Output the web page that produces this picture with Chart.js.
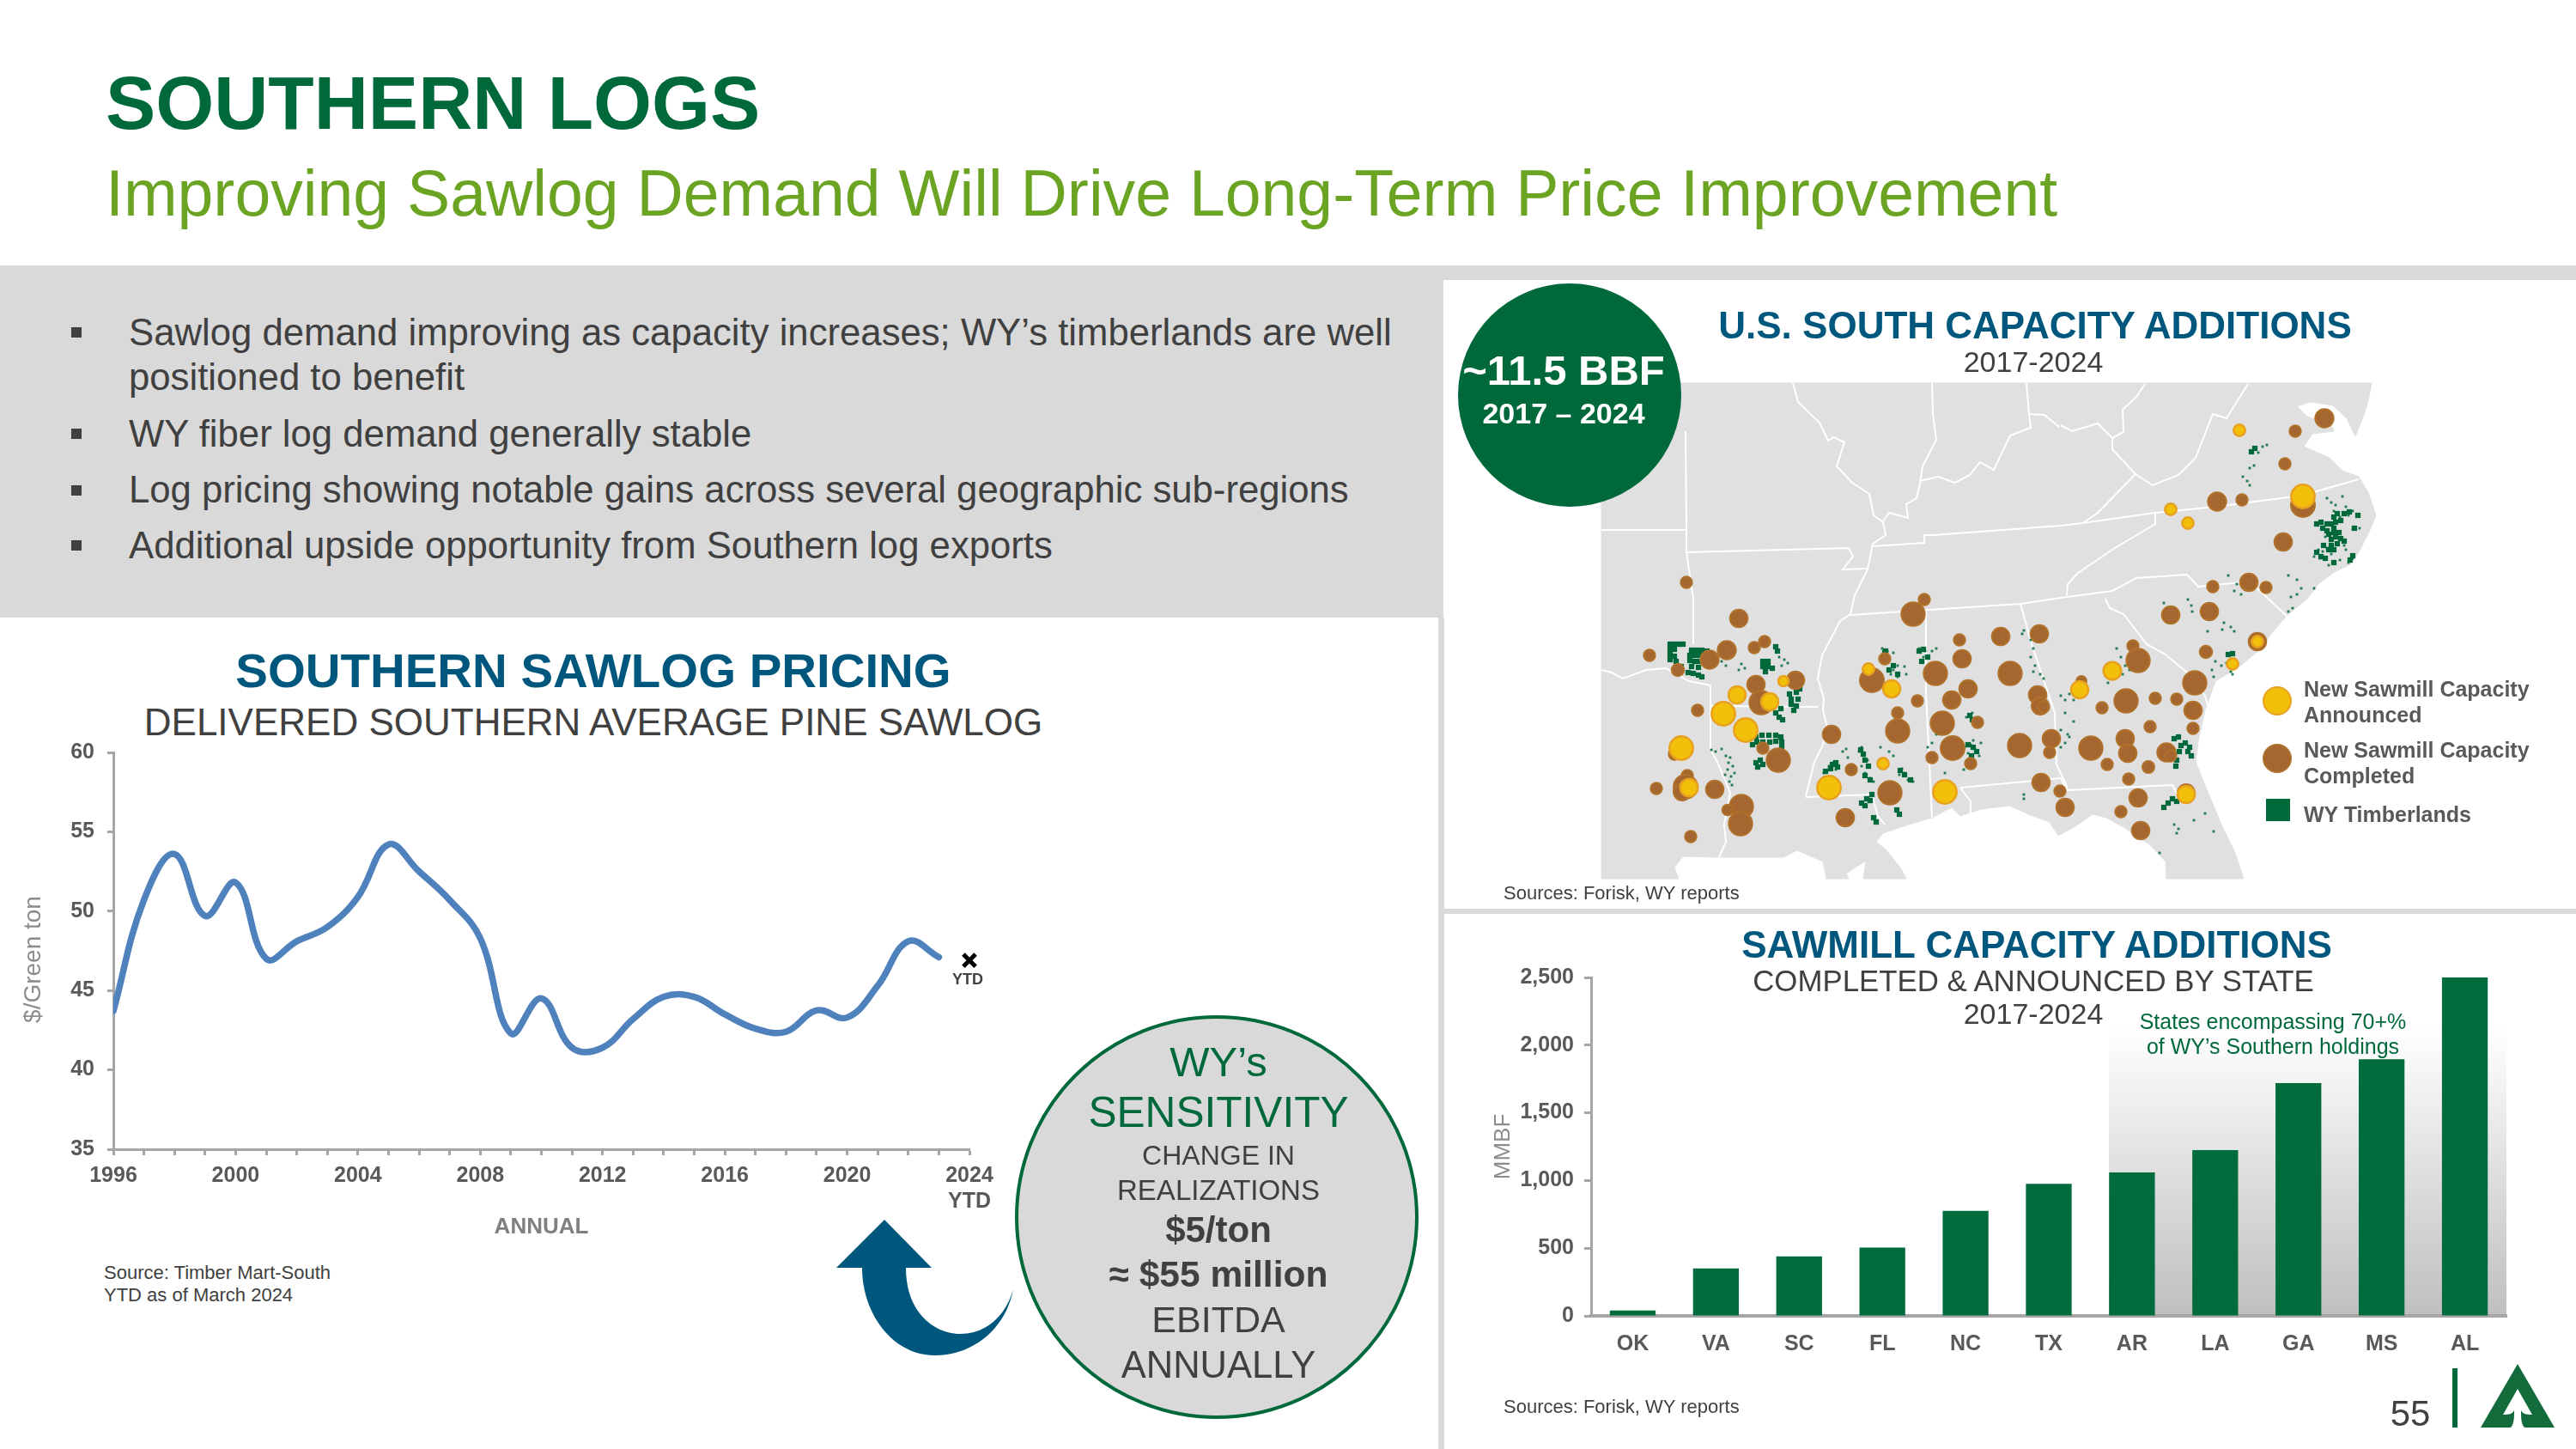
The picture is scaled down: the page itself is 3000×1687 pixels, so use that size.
<!DOCTYPE html>
<html>
<head>
<meta charset="utf-8">
<title>Southern Logs</title>
<script src="https://cdn.jsdelivr.net/npm/chart.js@4"></script>
<style>
  html, body { margin: 0; padding: 0; background: #fff; }
  #slide { position: relative; width: 3000px; height: 1687px; overflow: hidden; font-family: "Liberation Sans", Arial, sans-serif; color: #404040; }
  .box { position: absolute; }
  .t { position: absolute; white-space: nowrap; line-height: 1; transform: translateY(-50%); }
  .c { transform: translate(-50%, -50%); }
  .b { font-weight: bold; }
  canvas { position: absolute; }
</style>
</head>
<body>
<div id="slide">
  <div class="t b" style="left:123px;top:121px;font-size:87.4px;color:#00693C">SOUTHERN LOGS</div>
  <div class="t" style="left:123px;top:226px;font-size:75.2px;color:#6BA422">Improving Sawlog Demand Will Drive Long-Term Price Improvement</div>

  <div class="box" style="left:0;top:309px;width:3000px;height:17px;background:#D9D9D9"></div>
  <div class="box" style="left:0;top:326px;width:1681px;height:393px;background:#D9D9D9"></div>
  <div class="box" style="left:1675px;top:719px;width:7px;height:968px;background:#D9D9D9"></div>
  <div class="box" style="left:1682px;top:1058px;width:1318px;height:6px;background:#D9D9D9"></div>

  <div class="box" style="left:83px;top:381px;width:12px;height:12px;background:#404040"></div>
  <div class="t" style="left:150px;top:387px;font-size:43.7px">Sawlog demand improving as capacity increases; WY’s timberlands are well</div>
  <div class="t" style="left:150px;top:439px;font-size:43.7px">positioned to benefit</div>
  <div class="box" style="left:83px;top:499px;width:12px;height:12px;background:#404040"></div>
  <div class="t" style="left:150px;top:505px;font-size:43.7px">WY fiber log demand generally stable</div>
  <div class="box" style="left:83px;top:565px;width:12px;height:12px;background:#404040"></div>
  <div class="t" style="left:150px;top:570px;font-size:43.7px">Log pricing showing notable gains across several geographic sub-regions</div>
  <div class="box" style="left:83px;top:629px;width:12px;height:12px;background:#404040"></div>
  <div class="t" style="left:150px;top:635px;font-size:43.7px">Additional upside opportunity from Southern log exports</div>

  <div class="t c b" style="left:691px;top:781px;font-size:56.4px;color:#00577D">SOUTHERN SAWLOG PRICING</div>
  <div class="t c" style="left:691px;top:841px;font-size:44px">DELIVERED SOUTHERN AVERAGE PINE SAWLOG</div>
  <canvas id="priceChart" width="1200" height="600" style="left:0;top:860px"></canvas>
  <div class="t c" style="left:38px;top:1117px;font-size:28px;color:#8C8C8C;transform:translate(-50%,-50%) rotate(-90deg)">$/Green ton</div>
  <div class="t" style="left:121px;top:1482px;font-size:22px">Source: Timber Mart-South</div>
  <div class="t" style="left:121px;top:1508px;font-size:22px">YTD as of March 2024</div>

  <svg class="box" style="left:0;top:0" width="3000" height="1687">
    <path fill="#00577D" d="M1030,1420 L1085,1476 L1055,1476 C1055,1530 1090,1553 1118,1553 C1150,1553 1172,1530 1180,1501 C1172,1545 1135,1578 1089,1578 C1040,1578 1004,1530 1004,1476 L974,1476 Z"/>
    <circle cx="1417" cy="1417" r="233" fill="#D9D9D9" stroke="#00693C" stroke-width="4"/>
  </svg>
  <div class="t c" style="left:1419px;top:1236px;font-size:49px;color:#00693C">WY’s</div>
  <div class="t c" style="left:1419px;top:1296px;font-size:49.6px;color:#00693C">SENSITIVITY</div>
  <div class="t c" style="left:1419px;top:1345px;font-size:32px">CHANGE IN</div>
  <div class="t c" style="left:1419px;top:1385px;font-size:33px">REALIZATIONS</div>
  <div class="t c b" style="left:1419px;top:1432px;font-size:42px">$5/ton</div>
  <div class="t c b" style="left:1419px;top:1484px;font-size:42.5px">≈ $55 million</div>
  <div class="t c" style="left:1419px;top:1536px;font-size:43px">EBITDA</div>
  <div class="t c" style="left:1419px;top:1590px;font-size:43.5px">ANNUALLY</div>

  <canvas id="mapChart" width="940" height="610" style="left:1860px;top:430px"></canvas>
  <div class="box" style="left:1698px;top:330px;width:260px;height:260px;border-radius:50%;background:#00693C"></div>
  <div class="t c b" style="left:1821px;top:431px;font-size:49px;color:#fff">~11.5 BBF</div>
  <div class="t c b" style="left:1821px;top:481px;font-size:34px;color:#fff">2017 – 2024</div>
  <div class="t c b" style="left:2370px;top:379px;font-size:44px;color:#00577D">U.S. SOUTH CAPACITY ADDITIONS</div>
  <div class="t c" style="left:2368px;top:421px;font-size:34px">2017-2024</div>
  <div class="t" style="left:1751px;top:1040px;font-size:22px">Sources: Forisk, WY reports</div>

  <div class="box" style="left:2635px;top:799px;width:30px;height:30px;border-radius:50%;background:#F2BF0A;border:2px solid #E8A11F"></div>
  <div class="box" style="left:2635px;top:866px;width:30px;height:30px;border-radius:50%;background:#A5662F;border:2px solid #B0722B"></div>
  <div class="box" style="left:2641px;top:930px;width:28px;height:26px;background:#00693C;margin-left:-2px"></div>
  <div class="t b" style="left:2683px;top:802px;font-size:25px;color:#595959">New Sawmill Capacity</div>
  <div class="t b" style="left:2683px;top:832px;font-size:25px;color:#595959">Announced</div>
  <div class="t b" style="left:2683px;top:873px;font-size:25px;color:#595959">New Sawmill Capacity</div>
  <div class="t b" style="left:2683px;top:903px;font-size:25px;color:#595959">Completed</div>
  <div class="t b" style="left:2683px;top:948px;font-size:25px;color:#595959">WY Timberlands</div>

  <div class="box" style="left:2456px;top:1196px;width:463px;height:336px;background:linear-gradient(#fff,#BFBFBF)"></div>
  <canvas id="barChart" width="1260" height="480" style="left:1700px;top:1120px"></canvas>
  <div class="t c b" style="left:2372px;top:1100px;font-size:44px;color:#00577D">SAWMILL CAPACITY ADDITIONS</div>
  <div class="t c" style="left:2368px;top:1142px;font-size:34.8px">COMPLETED &amp; ANNOUNCED BY STATE</div>
  <div class="t c" style="left:2368px;top:1180px;font-size:34px">2017-2024</div>
  <div class="t c" style="left:2647px;top:1189px;font-size:25px;color:#00693C">States encompassing 70+%</div>
  <div class="t c" style="left:2647px;top:1218px;font-size:25px;color:#00693C">of WY’s Southern holdings</div>
  <div class="t" style="left:1751px;top:1638px;font-size:22px">Sources: Forisk, WY reports</div>

  <div class="t c" style="left:2807px;top:1646px;font-size:42px">55</div>
  <div class="box" style="left:2856px;top:1593px;width:6px;height:69px;background:#00693C"></div>
  <svg class="box" style="left:2880px;top:1580px" width="110" height="90">
    <g transform="translate(-2880,-1580)">
      <path fill="#136B3C" d="M2932,1588 L2975,1662 L2889,1662 Z"/>
      <path fill="#fff" d="M2932,1617 L2949,1647 C2941,1647 2938,1646 2936,1642 C2936,1650 2936,1658 2940,1662 L2924,1662 C2928,1658 2928,1650 2928,1642 C2926,1646 2923,1647 2915,1647 Z"/>
    </g>
  </svg>
</div>

<script>
// sawlog price, $/green ton
const priceYears = [1996,1997,1998,1999,2000,2001,2002,2003,2004,2005,2006,2007,2008,2009,2010,2011,2012,2013,2014,2015,2016,2017,2018,2019,2020,2021,2022,2023];
const priceValues = [43.7,50.7,53.6,49.7,51.8,47.0,48.1,49.0,50.9,54.2,52.5,50.7,48.3,42.3,44.5,41.4,41.4,43.2,44.6,44.6,43.5,42.6,42.4,43.75,43.3,45.3,48.1,47.1];
const ytdYear = 2024;
const ytdValue = 46.9;

// sawmill capacity additions, MMBF
const states = ['OK','VA','SC','FL','NC','TX','AR','LA','GA','MS','AL'];
const capacity = [40,350,440,505,775,975,1060,1225,1720,1895,2500];

// map readings: [x, y, size] on the map's own grid
const completedMills = [
  [104,248,6.7],[165,290,10.3],[61,333,6.7],[151,327,10.7],[131,338,10.7],[94,350,7.3],[183,324,6.7],[195,317,6.7],[185,367,10.3],[231,362,10.3],
  [191,388,13.7],[117,397,6.7],[193,441,6.7],[211,455,13.7],[90,448,6.7],[105,473,6.7],[103,486,14],[99,492,10],[69,488,6.7],[137,489,10.3],
  [168,509,13.7],[152,513,6.3],[167,529,13.7],[109,544,6.7],[273,425,10.3],[368,285,13.7],[381,268,6.7],[335,337,6.7],[320,362,14],[373,386,6.7],
  [350,400,6.7],[350,421,13.7],[296,466,6.7],[341,493,13.7],[289,522,10.3],[422,315,6.7],[425,337,10.3],[394,354,13.7],[432,372,10.3],[413,385,10.3],
  [402,412,13.7],[443,411,6.7],[414,441,14],[390,452,6.7],[435,459,6.7],[470,311,10.3],[515,308,10.3],[481,354,13.7],[513,379,10.3],[516,392,10],
  [520,393,6.7],[564,363,6],[492,438,13.7],[529,430,10.3],[527,446,6.7],[575,441,13.7],[517,481,10.3],[539,491,6.7],[545,510,10.3],[624,322,6.7],
  [630,339,13.7],[616,386,13.7],[588,394,6.7],[650,383,6.7],[675,384,6.7],[694,397,10.3],[696,365,13.7],[694,418,6.7],[644,416,6.7],[615,430,10.3],
  [618,447,10.3],[594,460,6.7],[642,463,7],[663,446,10.7],[668,450,6.7],[619,477,6.7],[630,499,10.3],[610,515,6.7],[633,537,10.3],[686,493,10],
  [709,329,7.3],[769,317,10.3],[717,253,6.7],[759,248,10.3],[779,254,6.7],[668,286,10.3],[713,282,10.3],[847,57,10.7],[813,72,6.7],[801,110,6.7],
  [722,154,10.7],[751,152,6.7],[822,158,14],[799,201,10.3]
];
const announcedMills = [
  [217,363,6],[163,379,10],[201,387,10],[147,401,13.7],[173,420,13.7],[98,441,13.7],[107,487,10.3],[316,349,6.7],[343,372,10],[270,487,13.7],
  [333,459,6.7],[405,492,13.7],[600,351,10.3],[562,373,10],[686,495,10],[740,343,6.7],[769,317,6.7],[748,71,6.7],[822,148,13.7],[668,163,6.7],[688,179,6.7]
];
const timberDense = [
  [85,320],[90,320],[95,320],[100,320],[85,326],[90,326],[85,332],[90,334],[85,338],[92,340],[98,346],[110,327],[116,327],[122,327],[128,328],
  [108,333],[114,333],[120,333],[108,339],[114,340],[120,340],[110,346],[118,347],[106,353],[112,354],[118,356],[122,358],[193,340],[199,340],
  [193,346],[199,346],[204,348],[196,352],[208,323],[210,328],[224,378],[232,376],[236,372],[226,384],[234,384],[226,390],[232,392],[229,397],
  [185,428],[192,426],[200,426],[208,426],[214,428],[186,434],[193,434],[201,434],[208,433],[215,434],[181,437],[215,440],[185,458],[190,455],
  [193,460],[187,463],[208,400],[214,395],[212,405],[216,408],[308,505],[314,500],[318,502],[320,495],[312,508],[322,522],[325,527],[349,513],
  [352,518],[665,505],[670,500],[675,503],[660,510],[672,430],[677,428],[685,435],[688,445],[692,450],[678,445],[675,455],[674,462],[690,440],
  [680,438],[735,332],[740,331],[850,180],[855,180],[858,185],[860,178],[855,198],[860,195],[862,203],[855,205],[762,96],[766,92],
  [838,180],[843,178],[845,185],[850,188],[858,172],[862,168],[866,176],[870,168],[876,166],[852,192],[858,190],[864,190],[866,197],[870,200],
  [846,205],[852,210],[858,210],[838,213],[843,218],[848,220],[880,217],[877,222],[886,170],[882,185],[858,225],
  [266,468],[272,465],[278,458],[274,460],[280,463],[307,443],[310,448],[312,455],[316,462],[312,473],[318,478],[353,467],[358,472],[365,478],
  [335,330],[340,350],[345,345],[350,355],[336,328],[375,328],[380,326],[385,335],[378,340],[388,345],[432,437],[438,440],[442,445],[436,450],[434,403],[437,408]
];
const timberSparse = [
  [150,450],[155,452],[153,458],[158,462],[152,466],[149,472],[156,474],[160,470],[154,480],[157,484],[133,443],[138,445],[145,442],[145,340],[150,345],
  [168,343],[172,348],[165,350],[212,335],[218,338],[222,342],[215,345],[264,470],[270,462],[275,458],[278,466],[286,445],[290,442],[292,452],[305,445],
  [308,440],[311,450],[315,455],[308,462],[312,470],[318,476],[322,480],[298,462],[300,470],[340,445],[345,450],[355,465],[358,470],[362,478],[368,480],
  [352,472],[330,440],[332,325],[338,328],[345,330],[350,345],[345,350],[350,358],[358,346],[360,355],[342,355],[375,325],[382,328],[380,335],[390,328],
  [385,345],[395,325],[428,440],[435,437],[440,442],[432,447],[445,450],[438,432],[420,430],[447,435],[395,425],[390,435],[385,440],[430,405],[437,400],
  [405,470],[427,466],[435,403],[437,406],[497,304],[495,308],[505,315],[508,325],[505,335],[510,345],[516,355],[520,360],[508,352],[540,380],[545,385],
  [550,378],[555,385],[545,400],[555,410],[540,420],[548,425],[545,435],[540,440],[550,428],[605,325],[610,335],[615,345],[612,355],[620,350],[595,365],
  [672,530],[677,535],[675,540],[718,538],[708,517],[695,525],[655,563],[497,495],[497,500],[720,340],[727,345],[733,342],[738,352],[740,355],[716,350],
  [718,358],[770,97],[775,90],[780,88],[760,115],[765,112],[752,125],[757,130],[760,135],[850,150],[855,155],[860,158],[868,148],[872,160],[858,165],
  [865,172],[875,170],[880,165],[888,185],[880,186],[848,195],[870,205],[872,210],[840,210],[845,212],[850,208],[835,218],[842,220],
  [855,215],[865,222],[875,225],[880,220],[852,228],[805,240],[815,245],[808,265],[815,262],[810,278],[805,282],[820,255],[835,255],[745,250],[742,258],
  [750,262],[735,240],[660,272],[688,268],[692,275],[693,282],[730,295],[738,300],[742,305],[728,303],[711,305]
];
const landOutline = [
  [5,16],[902,16],[898,37],[893,53],[883,78],[873,57],[857,42],[830,38],[815,43],[827,55],[855,65],[858,72],[833,75],[823,90],[853,103],[868,118],
  [887,125],[898,143],[907,170],[900,187],[887,213],[877,227],[857,237],[840,250],[827,267],[803,287],[785,308],[773,325],[747,347],[720,363],[708,397],
  [705,410],[700,433],[697,457],[705,477],[727,530],[743,563],[753,593],[663,593],[662,573],[643,553],[613,533],[593,522],[577,518],[557,532],[537,543],[527,527],
  [507,520],[480,508],[447,512],[423,520],[413,510],[390,522],[363,530],[333,540],[325,550],[337,560],[353,580],[360,593],[310,593],[313,572],
  [290,587],[293,593],[267,593],[263,573],[233,560],[217,568],[140,568],[100,567],[90,580],[95,593],[5,593]
];
const stateLines = [
  [[103,72],[104,187]],
  [[5,187],[104,187]],
  [[104,187],[104,213],[112,267],[112,320]],
  [[104,213],[293,208],[298,218],[286,233],[315,232]],
  [[228,16],[234,38],[259,62],[269,83],[276,79],[288,85],[279,113],[297,132],[317,145],[322,170],[333,178],[336,193],[321,203],[315,233],[300,263],[295,285],[283,293],[262,333],[257,360],[264,383],[263,397],[267,413],[263,437],[253,457],[243,497]],
  [[390,16],[391,52],[395,82],[379,113],[376,133],[372,150],[360,157],[362,173],[340,167],[333,177]],
  [[376,130],[397,125],[417,132],[434,123],[446,108],[462,117],[481,77],[505,68],[503,52],[521,53],[538,67]],
  [[500,16],[503,52]],
  [[321,206],[381,202],[381,193],[391,193],[540,182],[565,179],[650,167],[720,160],[820,147],[887,128]],
  [[295,286],[386,280],[493,273],[547,265],[600,258],[628,243],[687,239],[700,253],[760,247],[803,287]],
  [[592,267],[597,278],[613,285],[640,320],[662,332],[687,353],[708,380],[713,397]],
  [[493,273],[507,323],[533,400],[535,460],[547,485],[547,490]],
  [[547,490],[670,484],[677,497]],
  [[423,487],[540,476],[547,490]],
  [[423,487],[435,503],[435,517]],
  [[383,280],[383,377],[390,522]],
  [[243,498],[320,495],[327,520],[335,530]],
  [[132,367],[132,443],[140,457],[155,493],[148,530],[150,550],[142,568]],
  [[132,392],[257,393]],
  [[5,350],[17,353],[30,360],[57,350],[80,348],[107,363],[132,368]],
  [[540,65],[553,72],[583,63],[600,80],[600,93],[627,122],[583,167],[567,178]],
  [[627,122],[647,135],[677,123],[697,103],[717,52],[733,57],[758,17]],
  [[600,80],[613,73],[612,47],[628,32],[638,17]],
  [[547,263],[548,250],[560,237],[603,208],[650,180],[650,167]]
];

Chart.defaults.font.family = '"Liberation Sans", Arial, sans-serif';
Chart.defaults.animation = false;

const AXIS_GREY = '#A6A6A6';
const LABEL_GREY = '#595959';

// keep an axis box at a fixed size so the plot area lands where we want it
function pinWidth(w) {
  return s => { s.width = w; s.paddingTop = 0; s.paddingBottom = 0; };
}
function pinHeight(h) {
  return s => { s.height = h; s.paddingLeft = 0; s.paddingRight = 0; };
}

const ytdLabel = {
  id: 'ytdLabel',
  afterDatasetsDraw(chart) {
    const ctx = chart.ctx;
    ctx.save();
    ctx.font = 'bold 18px "Liberation Sans"';
    ctx.fillStyle = '#404040';
    ctx.textAlign = 'center';
    ctx.textBaseline = 'middle';
    ctx.fillText('YTD', chart.scales.x.getPixelForValue(ytdYear) - 2, chart.scales.y.getPixelForValue(ytdValue) + 23);
    ctx.restore();
  }
};

new Chart(document.getElementById('priceChart'), {
  type: 'scatter',
  data: {
    datasets: [
      {
        data: [{ x: ytdYear, y: ytdValue }],
        pointStyle: 'crossRot',
        pointRadius: 10,
        pointBorderWidth: 5,
        pointBorderColor: '#000',
        showLine: false,
        clip: false
      },
      {
        data: priceYears.map((y, i) => ({ x: y, y: priceValues[i] })),
        showLine: true,
        borderColor: '#4F81BD',
        borderWidth: 7.5,
        borderCapStyle: 'round',
        tension: 0.4,
        pointRadius: 0
      }
    ]
  },
  options: {
    responsive: false,
    layout: { padding: { top: 16, right: 71 } },
    plugins: { legend: { display: false }, tooltip: { enabled: false } },
    scales: {
      x: {
        type: 'linear',
        min: 1996,
        max: 2024,
        afterFit: pinHeight(122),
        grid: { drawOnChartArea: false, tickLength: 7, tickWidth: 3, tickColor: AXIS_GREY },
        border: { color: AXIS_GREY, width: 3 },
        ticks: {
          stepSize: 1,
          autoSkip: false,
          maxRotation: 0,
          padding: 9,
          color: LABEL_GREY,
          font: { size: 25, weight: 'bold', lineHeight: 1.2 },
          callback: v => v === 2024 ? ['2024', 'YTD'] : ((v - 1996) % 4 === 0 ? String(v) : '')
        },
        title: { display: true, text: 'ANNUAL', color: '#808080', font: { size: 26, weight: 'bold' }, padding: { bottom: 16 } }
      },
      y: {
        min: 35,
        max: 60,
        afterFit: pinWidth(132),
        grid: { drawOnChartArea: false, tickLength: 7, tickWidth: 3, tickColor: AXIS_GREY },
        border: { color: AXIS_GREY, width: 3 },
        ticks: { stepSize: 5, padding: 15, color: LABEL_GREY, font: { size: 25, weight: 'bold' } }
      }
    }
  },
  plugins: [ytdLabel]
});

new Chart(document.getElementById('barChart'), {
  type: 'bar',
  data: {
    labels: states,
    datasets: [{ data: capacity, backgroundColor: '#006B3C', barPercentage: 0.55, categoryPercentage: 1 }]
  },
  options: {
    responsive: false,
    layout: { padding: { top: 18, right: 41 } },
    plugins: { legend: { display: false }, tooltip: { enabled: false } },
    scales: {
      x: {
        afterFit: pinHeight(68),
        grid: { display: false, drawTicks: false },
        border: { color: AXIS_GREY, width: 4 },
        ticks: { padding: 18, color: LABEL_GREY, font: { size: 25, weight: 'bold' } }
      },
      y: {
        min: 0,
        max: 2500,
        afterFit: pinWidth(153),
        grid: { drawOnChartArea: false, tickLength: 8, tickWidth: 3, tickColor: AXIS_GREY },
        border: { color: AXIS_GREY, width: 3 },
        ticks: { stepSize: 500, padding: 12, color: LABEL_GREY, font: { size: 25, weight: 'bold' }, callback: v => v.toLocaleString('en-US') },
        title: { display: true, text: 'MMBF', color: '#8C8C8C', font: { size: 26 }, padding: { top: 35 } }
      }
    }
  }
});

const toXY = p => ({ x: p[0], y: p[1] });
const toBubble = p => ({ x: p[0], y: p[1], r: p[2] });

new Chart(document.getElementById('mapChart'), {
  data: {
    datasets: [
      { type: 'bubble', order: 1, data: announcedMills.map(toBubble), backgroundColor: '#F2BF0A', borderColor: '#E8A11F', borderWidth: 2.5 },
      { type: 'bubble', order: 2, data: completedMills.map(toBubble), backgroundColor: '#A5662F', borderColor: '#B0722B', borderWidth: 2 },
      { type: 'scatter', order: 3, data: timberDense.map(toXY), pointStyle: 'rect', pointRadius: 4.4, backgroundColor: '#00693C', borderWidth: 0 },
      { type: 'scatter', order: 4, data: timberSparse.map(toXY), pointStyle: 'rect', pointRadius: 2, backgroundColor: '#1E7A4C', borderWidth: 0 },
      ...stateLines.map(line => ({
        type: 'scatter', order: 5, data: line.map(toXY), showLine: true, borderColor: '#fff', borderWidth: 2, pointRadius: 0
      })),
      { type: 'scatter', order: 6, data: landOutline.concat([landOutline[0]]).map(toXY), showLine: true, fill: 'shape', backgroundColor: '#E0E0E0', borderColor: '#E0E0E0', borderWidth: 1, pointRadius: 0 }
    ]
  },
  options: {
    responsive: false,
    layout: { autoPadding: false },
    plugins: { legend: { display: false }, tooltip: { enabled: false } },
    scales: {
      x: { type: 'linear', min: 0, max: 940, display: false },
      y: { type: 'linear', min: 0, max: 610, reverse: true, display: false }
    }
  }
});
</script>
</body>
</html>
